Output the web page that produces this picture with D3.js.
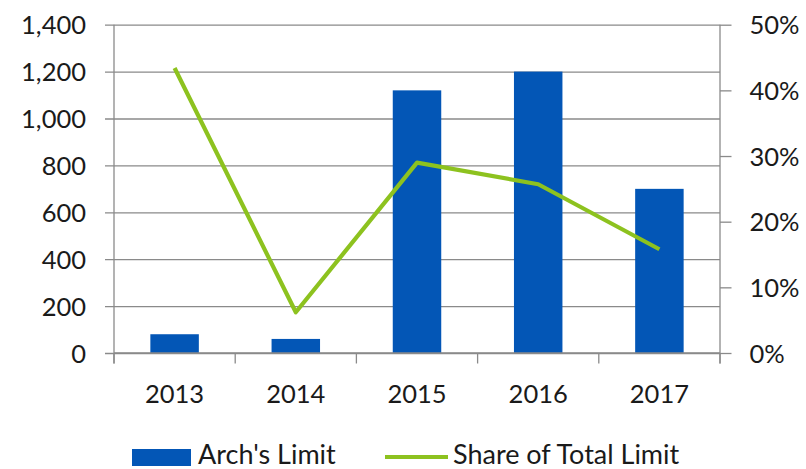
<!DOCTYPE html>
<html>
<head>
<meta charset="utf-8">
<script src="https://cdn.jsdelivr.net/npm/d3@7"></script>
<style>
  body { margin: 0; background: #fff; }
  svg text { font-family: Lato, "Open Sans", sans-serif; fill: #1a1a1a; }
</style>
</head>
<body>
<div id="chart"></div>
<script>
const years = ['2013', '2014', '2015', '2016', '2017'];
const archLimit = [80, 60, 1120, 1200, 700];
const shareOfTotal = [0.434, 0.062, 0.29, 0.257, 0.158];
const leftTicks = [0, 200, 400, 600, 800, 1000, 1200, 1400];
const rightTicks = [0, 0.1, 0.2, 0.3, 0.4, 0.5];

const width = 806, height = 469;
const margin = {top: 24.7, right: 86, bottom: 116, left: 114};
const barColor = '#0356b6', lineColor = '#8dc21f', gridColor = '#8a8a8a';

const svg = d3.select('#chart').append('svg').attr('width', width).attr('height', height);

const x = d3.scaleBand().domain(years).range([margin.left, width - margin.right])
  .paddingInner(0.6).paddingOuter(0.3);
const y = d3.scaleLinear().domain([0, 1400]).range([height - margin.bottom, margin.top]);
const y2 = d3.scaleLinear().domain([0, 0.5]).range([height - margin.bottom, margin.top]);
const x0 = margin.left, x1 = width - margin.right, yb = height - margin.bottom;

// gridlines + left axis labels
const leftAxis = svg.append('g').attr('transform', `translate(${x0},0)`)
  .call(d3.axisLeft(y).tickValues(leftTicks).tickFormat(d3.format(',')).tickSize(9).tickSizeInner(-(x1 - x0)).tickPadding(20));
leftAxis.select('.domain').remove();
leftAxis.selectAll('.tick line').attr('x1', -9).attr('stroke', gridColor).attr('stroke-width', 1.3);
leftAxis.selectAll('.tick text').attr('font-size', 25.5).attr('dy', '0.36em').attr('x', -28);

// bars
svg.append('g').selectAll('rect').data(years).join('rect')
  .attr('x', d => x(d))
  .attr('y', (d, i) => y(archLimit[i]))
  .attr('width', x.bandwidth())
  .attr('height', (d, i) => yb - y(archLimit[i]))
  .attr('fill', barColor);

// bottom axis with ticks at category boundaries
const bounds = d3.range(years.length + 1).map(i => x0 + i * (x1 - x0) / years.length);
const bottom = svg.append('g');
bottom.append('line').attr('x1', x0).attr('x2', x1).attr('y1', yb).attr('y2', yb)
  .attr('stroke', gridColor).attr('stroke-width', 1.3);
bottom.selectAll('line.tk').data(bounds).join('line').attr('class', 'tk')
  .attr('x1', d => d).attr('x2', d => d).attr('y1', yb).attr('y2', yb + 10.5)
  .attr('stroke', gridColor).attr('stroke-width', 1.3);
bottom.selectAll('text').data(years).join('text')
  .attr('x', d => x(d) + x.bandwidth() / 2).attr('y', 403)
  .attr('text-anchor', 'middle').attr('font-size', 25.5).text(d => d);

// left axis line
svg.append('line').attr('x1', x0).attr('x2', x0).attr('y1', margin.top).attr('y2', yb + 10.5)
  .attr('stroke', gridColor).attr('stroke-width', 1.3);

// right axis
const rightAxis = svg.append('g').attr('transform', `translate(${x1},0)`)
  .call(d3.axisRight(y2).tickValues(rightTicks).tickFormat(d3.format('.0%')).tickSize(11.5).tickPadding(18));
rightAxis.select('.domain').remove();
rightAxis.selectAll('.tick line').attr('stroke', gridColor).attr('stroke-width', 1.3);
rightAxis.selectAll('.tick text').attr('font-size', 25.5).attr('dy', '0.36em');
svg.append('line').attr('x1', x1).attr('x2', x1).attr('y1', margin.top).attr('y2', yb + 10.5)
  .attr('stroke', gridColor).attr('stroke-width', 1.3);

// share line
const line = d3.line().x((d, i) => x(years[i]) + x.bandwidth() / 2).y(d => y2(d));
svg.append('path').datum(shareOfTotal).attr('d', line)
  .attr('fill', 'none').attr('stroke', lineColor).attr('stroke-width', 4.2).attr('stroke-linejoin', 'round');

// legend
const lg = svg.append('g');
lg.append('rect').attr('x', 132).attr('y', 449).attr('width', 59).attr('height', 17).attr('fill', barColor);
lg.append('text').attr('x', 198).attr('y', 464).attr('font-size', 27).text("Arch's Limit");
lg.append('line').attr('x1', 385).attr('x2', 448).attr('y1', 457).attr('y2', 457)
  .attr('stroke', lineColor).attr('stroke-width', 4.2);
lg.append('text').attr('x', 453).attr('y', 464).attr('font-size', 27).text('Share of Total Limit');
</script>
</body>
</html>
